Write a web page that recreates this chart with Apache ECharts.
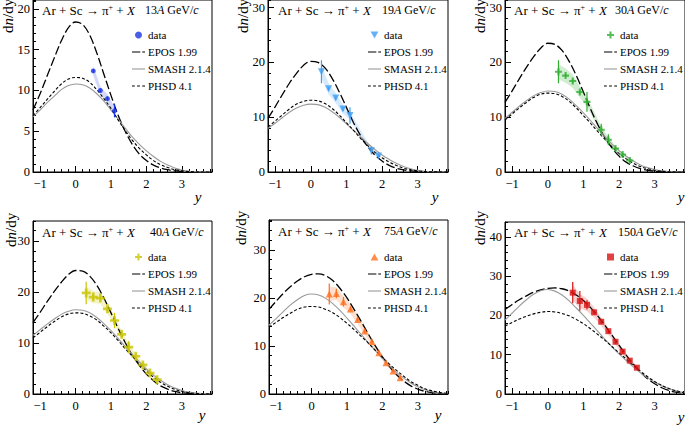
<!DOCTYPE html>
<html><head><meta charset="utf-8">
<script src="https://cdn.jsdelivr.net/npm/echarts@6/dist/echarts.min.js"></script>
<style>html,body{margin:0;padding:0;background:#fff}#c{width:685px;height:425px}</style>
</head><body><div id="c"></div>
<script>
// ---------------- DATA ----------------
const rapidity = [-1.2,-1.0,-0.8,-0.6,-0.4,-0.2,0,0.2,0.4,0.6,0.8,1.0,1.2,1.4,1.6,1.8,2.0,2.2,2.4,2.6,2.8,3.0,3.2,3.4,3.6,3.8];
const energies = ['13','19','30','40','75','150'];
const xTicks = [-1,0,1,2,3];
const legendLabels = ['data','EPOS 1.99','SMASH 2.1.4','PHSD 4.1'];

// 13A GeV/c
const epos13  = [7.6,9.6,11.8,14.0,16.1,17.7,18.4,18.1,16.8,14.6,12.0,9.4,7.0,5.0,3.4,2.2,1.4,0.85,0.5,0.28,0.14,0.06,0.02,0.01,0,0];
const smash13 = [6.8,7.6,8.5,9.3,10.1,10.6,10.8,10.7,10.3,9.6,8.7,7.6,6.5,5.4,4.3,3.4,2.6,1.9,1.3,0.85,0.5,0.25,0.1,0.04,0.01,0];
const phsd13  = [6.9,7.9,8.9,9.9,10.8,11.4,11.6,11.5,11.0,10.1,9.0,7.8,6.4,5.1,3.9,2.9,2.1,1.4,0.9,0.55,0.3,0.15,0.06,0.02,0,0];
const dataX13 = [0.5,0.7,0.9,1.1];
const dataY13 = [12.4,10.0,9.0,7.5];
const stat13  = [0.2,0.2,0.2,0.8];
const sys13   = [0.6,0.5,0.5,0.5];

// 19A GeV/c
const epos19  = [9.8,11.9,14.1,16.2,18.0,19.5,20.2,20.0,19.0,17.1,14.6,11.8,9.0,6.6,4.6,3.1,2.0,1.2,0.7,0.4,0.2,0.08,0.03,0.01,0,0];
const smash19 = [8.0,8.9,9.9,10.9,11.7,12.2,12.4,12.3,11.8,11.0,10.0,8.8,7.6,6.4,5.2,4.1,3.1,2.3,1.6,1.0,0.6,0.3,0.12,0.05,0.01,0];
const phsd19  = [8.2,9.3,10.4,11.5,12.4,12.9,13.1,13.0,12.5,11.6,10.4,9.0,7.6,6.1,4.8,3.6,2.6,1.8,1.2,0.7,0.4,0.2,0.08,0.03,0.01,0];
const dataX19 = [0.3,0.5,0.7,0.9,1.1,1.7,1.9];
const dataY19 = [18.3,15.2,13.5,11.5,10.3,3.9,2.9];
const stat19  = [2.1,0.3,0.3,0.3,1.5,0.7,0.3];
const sys19   = [1.2,1.0,0.9,0.8,0.7,0.4,0.3];

// 30A GeV/c
const epos30  = [12.7,14.8,17.0,19.1,21.0,22.6,23.5,23.3,22.2,20.2,17.6,14.6,11.5,8.7,6.3,4.4,2.9,1.8,1.1,0.6,0.3,0.15,0.06,0.02,0,0];
const smash30 = [9.8,10.9,12.0,13.0,13.9,14.5,14.8,14.7,14.2,13.3,12.1,10.8,9.4,7.9,6.5,5.1,3.9,2.9,2.0,1.3,0.8,0.45,0.22,0.1,0.04,0.01];
const phsd30  = [9.5,10.6,11.7,12.7,13.6,14.2,14.4,14.3,13.8,12.9,11.7,10.3,8.9,7.4,6.0,4.6,3.4,2.4,1.6,1.0,0.6,0.3,0.13,0.05,0.01,0];
const dataX30 = [0.3,0.5,0.7,0.9,1.1,1.5,1.7,1.9,2.1,2.3];
const dataY30 = [18.3,17.6,16.6,14.6,12.8,7.7,5.9,4.3,3.2,2.1];
const stat30  = [2.1,0.3,0.3,0.3,1.8,1.1,1.0,0.3,0.3,0.3];
const sys30   = [1.4,1.3,1.2,1.0,0.9,0.6,0.5,0.4,0.3,0.2];

// 40A GeV/c
const epos40  = [14.0,16.0,18.1,20.1,21.9,23.4,24.2,24.1,23.1,21.3,18.8,15.9,12.9,10.1,7.6,5.6,3.9,2.6,1.6,0.95,0.5,0.25,0.1,0.04,0.01,0];
const smash40 = [11.5,12.6,13.7,14.7,15.6,16.2,16.5,16.4,15.9,15.0,13.8,12.4,10.9,9.3,7.8,6.3,4.9,3.7,2.7,1.8,1.15,0.7,0.38,0.18,0.08,0.03];
const phsd40  = [11.0,12.1,13.2,14.2,15.1,15.7,15.9,15.8,15.3,14.5,13.3,12.0,10.5,8.9,7.4,5.9,4.5,3.3,2.3,1.5,0.9,0.5,0.25,0.1,0.04,0.01];
const dataX40 = [0.3,0.5,0.7,0.9,1.1,1.3,1.5,1.7,1.9,2.1,2.3];
const dataY40 = [19.8,19.0,18.8,16.7,14.4,11.7,9.2,7.4,5.7,4.1,2.8];
const stat40  = [2.2,0.6,0.4,0.4,1.5,0.5,1.2,0.4,0.4,0.4,0.4];
const sys40   = [1.3,1.2,1.1,1.0,0.9,0.8,0.6,0.5,0.4,0.3,0.2];

// 75A GeV/c
const epos75  = [17.6,19.3,20.9,22.3,23.5,24.4,24.9,25.0,24.6,23.6,22.0,20.0,17.6,15.1,12.5,10.0,7.7,5.7,4.0,2.7,1.7,1.0,0.55,0.28,0.12,0.05];
const smash75 = [14.3,15.7,17.1,18.5,19.6,20.5,20.8,20.6,19.9,18.8,17.4,15.8,14.1,12.4,10.7,9.0,7.4,5.9,4.5,3.3,2.3,1.5,0.9,0.5,0.25,0.1];
const phsd75  = [13.9,14.9,15.9,16.8,17.6,18.1,18.2,18.1,17.6,16.9,15.9,14.7,13.4,12.0,10.6,9.1,7.6,6.2,4.9,3.7,2.6,1.8,1.1,0.65,0.35,0.15];
const dataX75 = [0.5,0.7,0.9,1.1,1.3,1.5,1.7,1.9,2.1,2.3,2.5];
const dataY75 = [20.8,20.9,19.2,17.7,15.5,13.1,10.9,8.6,6.5,4.8,3.4];
const stat75  = [2.2,1.0,1.0,0.4,0.4,0.4,0.4,0.4,0.3,0.3,0.3];
const sys75   = [1.5,1.3,1.2,1.0,0.9,0.8,0.7,0.6,0.5,0.4,0.3];

// 150A GeV/c
const epos150  = [21.5,22.8,24.0,25.0,25.9,26.5,26.9,27.0,26.8,26.2,25.2,23.8,22.0,19.9,17.5,15.0,12.4,9.9,7.6,5.6,3.9,2.6,1.6,0.9,0.45,0.2];
const smash150 = [18.8,20.6,22.4,24.0,25.4,26.3,26.6,26.2,25.2,23.7,21.9,20.0,18.0,16.0,14.0,12.0,10.2,8.5,6.9,5.4,4.1,3.0,2.1,1.4,0.8,0.4];
const phsd150  = [17.3,18.2,19.1,19.8,20.4,20.8,21.0,20.9,20.5,19.9,19.0,17.9,16.6,15.2,13.7,12.1,10.5,8.9,7.3,5.8,4.4,3.2,2.2,1.4,0.8,0.4];
const dataX150 = [0.7,0.9,1.1,1.3,1.5,1.7,1.9,2.1,2.3,2.5];
const dataY150 = [25.8,23.7,22.7,20.8,18.4,16.0,13.3,10.8,8.5,6.7];
const stat150  = [2.7,2.5,1.2,0.5,0.5,0.5,0.5,0.5,0.4,0.4];
const sys150   = [2.0,1.8,1.6,1.3,1.1,0.9,0.8,0.7,0.6,0.5];

const panelData = [
  {e:'13', epos:epos13, smash:smash13, phsd:phsd13, dx:dataX13, dy:dataY13, stat:stat13, sys:sys13},
  {e:'19', epos:epos19, smash:smash19, phsd:phsd19, dx:dataX19, dy:dataY19, stat:stat19, sys:sys19},
  {e:'30', epos:epos30, smash:smash30, phsd:phsd30, dx:dataX30, dy:dataY30, stat:stat30, sys:sys30},
  {e:'40', epos:epos40, smash:smash40, phsd:phsd40, dx:dataX40, dy:dataY40, stat:stat40, sys:sys40},
  {e:'75', epos:epos75, smash:smash75, phsd:phsd75, dx:dataX75, dy:dataY75, stat:stat75, sys:sys75},
  {e:'150', epos:epos150, smash:smash150, phsd:phsd150, dx:dataX150, dy:dataY150, stat:stat150, sys:sys150}
];

// ---------------- LAYOUT / STYLE ----------------
const FONT = 'Liberation Serif';
const PLUS = 'path://M3.5,0h3v3.5h3.5v3h-3.5v3.5h-3v-3.5h-3.5v-3h3.5z';
const TRI_DOWN = 'path://M0,0L10,0L5,9Z';
const TRI_UP = 'path://M5,0L10,9L0,9Z';
const SQUARE = 'path://M0,0h10v10h-10z';
const ICON_EPOS = 'path://M0,0h9v1.3h-9zM11,0h3v1.3h-3z';
const ICON_SMASH = 'path://M0,0h14v1.2h-14z';
const ICON_PHSD = 'path://M0,0h3v1.2h-3zM5.5,0h3v1.2h-3zM11,0h3v1.2h-3z';
const LEG_STEP = 17;
const layout = [
  {left:33,  top:0,   width:179, height:172, ymax:21.1, major:5,  minor:1, color:'#1c35e6', band:'rgba(60,80,235,0.22)',  symbol:'circle', size:5, tx:42,  ty:10,  ex:145, lx:132, ly:29,  ax:198, ay:197, dx:8,   dyb:33},
  {left:268, top:0,   width:180, height:172, ymax:31.4, major:10, minor:2, color:'#3f9ef2', band:'rgba(63,158,242,0.22)', symbol:TRI_DOWN, size:7, tx:278, ty:10, ex:382, lx:368, ly:29, ax:435, ay:197, dx:243, dyb:33},
  {left:505, top:0,   width:181, height:172, ymax:31.4, major:10, minor:2, color:'#2fae2f', band:'rgba(47,174,47,0.22)',  symbol:PLUS, size:7, tx:514, ty:10,  ex:615, lx:604, ly:29, ax:681, ay:197, dx:480, dyb:33},
  {left:33,  top:221, width:179, height:173, ymax:33.9, major:10, minor:2, color:'#c9c400', band:'rgba(205,200,0,0.22)',  symbol:PLUS, size:9, tx:42,  ty:232, ex:150, lx:132, ly:251, ax:202, ay:415, dx:11, dyb:247},
  {left:269, top:220, width:179, height:174, ymax:36.2, major:10, minor:2, color:'#ff6f1e', band:'rgba(255,111,30,0.22)', symbol:TRI_UP, size:7, tx:278, ty:231, ex:384, lx:368, ly:251, ax:438, ay:415, dx:241, dyb:245},
  {left:505, top:222, width:181, height:172, ymax:43.8, major:10, minor:2, color:'#d81212', band:'rgba(216,18,18,0.2)', symbol:SQUARE, size:6, tx:514, ty:232, ex:618, lx:604, ly:251, ax:681, ay:417, dx:480, dyb:245}
];

const fmtNum = v => (v < 0 ? '\u2212' + (-v) : String(v));
const option = {animation:false, textStyle:{fontFamily:FONT}, grid:[], xAxis:[], yAxis:[], series:[], legend:[], graphic:[]};

panelData.forEach((p, i) => {
  const L = layout[i];
  option.grid.push({left:L.left, top:L.top, width:L.width, height:L.height, show:true, borderColor:'#000', borderWidth:1, containLabel:false});
  const xBase = {type:'value', gridIndex:i, min:-1.2, max:3.85, position:'bottom', splitLine:{show:false}};
  option.xAxis.push(Object.assign({}, xBase, {interval:0.2, axisLine:{show:true, onZero:false, lineStyle:{color:'#000'}}, axisTick:{show:true, inside:true, length:3, lineStyle:{color:'#000'}}, axisLabel:{show:false}}));
  option.xAxis.push(Object.assign({}, xBase, {axisLine:{show:false, onZero:false}, axisTick:{show:true, inside:true, length:6, customValues:xTicks, lineStyle:{color:'#000'}},
    axisLabel:{show:true, customValues:xTicks, formatter:fmtNum, fontFamily:FONT, fontSize:12.5, color:'#000', margin:5}}));
  const yBase = {type:'value', gridIndex:i, min:0, max:L.ymax, position:'left', splitLine:{show:false}};
  const majors = [];
  for (let v = 0; v <= L.ymax; v += L.major) majors.push(v);
  option.yAxis.push(Object.assign({}, yBase, {interval:L.minor, axisLine:{show:true, onZero:false, lineStyle:{color:'#000'}}, axisTick:{show:true, inside:true, length:3, lineStyle:{color:'#000'}}, axisLabel:{show:false}}));
  option.yAxis.push(Object.assign({}, yBase, {axisLine:{show:false, onZero:false}, axisTick:{show:true, inside:true, length:6, customValues:majors, lineStyle:{color:'#000'}},
    axisLabel:{show:true, customValues:majors, fontFamily:FONT, fontSize:12.5, color:'#000', margin:3}}));

  const xi = 2*i, yi = 2*i;
  const pts = p.dx.map((x,k)=>[x, p.dy[k], p.stat[k], p.sys[k]]);
  // systematic band
  option.series.push({type:'custom', xAxisIndex:xi, yAxisIndex:yi, silent:true, z:1, clip:true, data:pts,
    renderItem:(params, api) => {
      if (params.dataIndex !== 0) return null;
      const up = pts.map(q => api.coord([q[0], q[1] + q[3]]));
      const lo = pts.map(q => api.coord([q[0], q[1] - q[3]])).reverse();
      return {type:'polygon', shape:{points:up.concat(lo)}, style:{fill:L.band}};
    }});
  // models
  const mk = (arr, name, ls) => ({type:'line', name:name + '_' + i, xAxisIndex:xi, yAxisIndex:yi, z:3, symbol:'none', showSymbol:false, smooth:0.35, silent:true,
    data: rapidity.map((x,k)=>[x, arr[k]]), lineStyle:ls, itemStyle:{color:ls.color}});
  option.series.push(mk(p.epos, 'epos', {color:'#000', width:1.3, type:[9,3]}));
  option.series.push(mk(p.smash, 'smash', {color:'#9a9a9a', width:1.1, type:'solid'}));
  option.series.push(mk(p.phsd, 'phsd', {color:'#000', width:1.1, type:[3,2]}));
  // stat error bars
  option.series.push({type:'custom', xAxisIndex:xi, yAxisIndex:yi, silent:true, z:4, data:pts,
    renderItem:(params, api) => {
      const x = api.value(0), y = api.value(1), e = api.value(2);
      const a = api.coord([x, y - e]), b = api.coord([x, y + e]);
      return {type:'line', shape:{x1:a[0], y1:a[1], x2:b[0], y2:b[1]}, style:{stroke:L.color, lineWidth:1.2}};
    }});
  // data markers
  option.series.push({type:'scatter', name:'data_' + i, xAxisIndex:xi, yAxisIndex:yi, z:5, silent:true,
    symbol:L.symbol, symbolSize:L.size, itemStyle:{color:L.color}, data:pts.map(q=>[q[0], q[1]])});

  // legend icons (library legend), labels as serif text beside them
  option.legend.push({orient:'vertical', left:L.lx, top:L.ly, padding:0, itemWidth:13, itemHeight:7, itemGap:LEG_STEP - 12, selectedMode:false,
    data:[{name:'data_'+i}, {name:'epos_'+i, icon:ICON_EPOS}, {name:'smash_'+i, icon:ICON_SMASH}, {name:'phsd_'+i, icon:ICON_PHSD}],
    formatter:() => ' ', textStyle:{fontSize:10, lineHeight:12}});
  legendLabels.forEach((lab, k) => {
    option.graphic.push({type:'text', x:L.lx + 16, y:L.ly + 6 + k*LEG_STEP, silent:true, z:100,
      style:{text:lab, fontFamily:FONT, fontSize:11, fill:'#000', textVerticalAlign:'middle'}});
  });

  const txt = (x, y, text, fs) => ({type:'text', x:x, y:y, z:100, silent:true,
    style:{text:text, fontFamily:FONT, fontSize:fs, fill:'#000', textVerticalAlign:'middle',
      rich:{i:{fontStyle:'italic', fontFamily:FONT, fontSize:fs}, sup:{fontFamily:FONT, fontSize:8, verticalAlign:'top', padding:[0,0,5,0]}}}});
  option.graphic.push(txt(L.tx, L.ty, 'Ar + Sc \u2192 \u03c0{sup|+} + {i|X}', 13));
  option.graphic.push(txt(L.ex, L.ty, p.e + '{i|A} GeV/{i|c}', 12));
  option.graphic.push({type:'text', x:L.ax, y:L.ay, silent:true, style:{text:'y', fontFamily:FONT, fontSize:15, fontStyle:'italic', fill:'#000', textAlign:'center', textVerticalAlign:'middle'}});
  option.graphic.push({type:'text', x:L.dx, y:L.dyb, rotation:Math.PI/2, silent:true,
    style:{text:'d{i|n}/dy', fontFamily:FONT, fontSize:15, fill:'#000', textAlign:'left', textVerticalAlign:'middle',
      rich:{i:{fontStyle:'italic', fontFamily:FONT, fontSize:15}}}});
});

const chart = echarts.init(document.getElementById('c'), null, {renderer:'svg'});
chart.setOption(option);
</script>
</body></html>
